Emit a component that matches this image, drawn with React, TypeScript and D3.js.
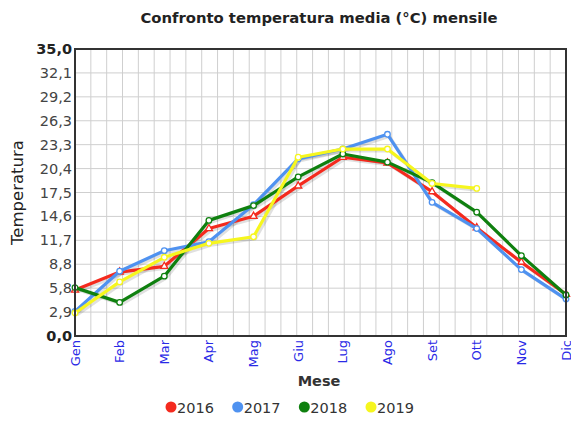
import React, { useEffect, useRef } from 'react';
import * as d3 from 'd3';

const months = ['Gen', 'Feb', 'Mar', 'Apr', 'Mag', 'Giu', 'Lug', 'Ago', 'Set', 'Ott', 'Nov', 'Dic'];
const yTicks = [0, 2.9, 5.8, 8.8, 11.7, 14.6, 17.5, 20.4, 23.3, 26.3, 29.2, 32.1, 35.0];

const t2016 = [5.6, 7.8, 8.5, 13.1, 14.6, 18.3, 21.8, 21.1, 17.6, 13.2, 9.0, 5.1];
const t2017 = [3.0, 7.9, 10.4, 11.5, 16.0, 21.6, 22.8, 24.6, 16.3, 13.1, 8.1, 4.5];
const t2018 = [5.9, 4.1, 7.3, 14.1, 15.9, 19.4, 22.2, 21.2, 18.7, 15.1, 9.8, 5.0];
const t2019 = [2.8, 6.6, 9.6, 11.3, 12.1, 21.8, 22.8, 22.8, 18.6, 18.0];

const series = [
  { name: '2016', color: '#f42a1e', values: t2016, marker: 'triangle' },
  { name: '2017', color: '#4f92f0', values: t2017, marker: 'circle' },
  { name: '2018', color: '#0f800f', values: t2018, marker: 'circle' },
  { name: '2019', color: '#f6f61e', values: t2019, marker: 'circle' },
];

const W = 571, H = 422;
const margin = { top: 49, left: 75, right: 5, bottom: 86 };

export default function App() {
  const ref = useRef<SVGSVGElement>(null);

  useEffect(() => {
    const svg = d3.select(ref.current);
    svg.selectAll('*').remove();
    const font = 'Verdana, "DejaVu Sans", sans-serif';

    const pw = W - margin.left - margin.right;
    const ph = H - margin.top - margin.bottom;
    const x = d3.scalePoint<string>().domain(months).range([0, pw]);
    const y = d3.scaleLinear().domain([0, 35]).range([ph, 0]);

    const g = svg.append('g').attr('transform', `translate(${margin.left},${margin.top})`);

    // grid
    const vCount = 31;
    g.append('g').selectAll('line').data(d3.range(1, vCount)).enter().append('line')
      .attr('x1', (d) => (d * pw) / vCount).attr('x2', (d) => (d * pw) / vCount)
      .attr('y1', 0).attr('y2', ph)
      .attr('stroke', '#cfcfcf').attr('stroke-width', 1);
    g.append('g').selectAll('line').data(d3.range(1, 12)).enter().append('line')
      .attr('x1', 0).attr('x2', pw)
      .attr('y1', (d) => y((d * 35) / 12)).attr('y2', (d) => y((d * 35) / 12))
      .attr('stroke', '#cfcfcf').attr('stroke-width', 1);

    // y tick labels
    g.append('g').selectAll('text').data(yTicks).enter().append('text')
      .attr('x', -3).attr('y', (d, i) => y((i * 35) / 12) + 5)
      .attr('text-anchor', 'end')
      .attr('font-family', font)
      .attr('font-size', 14.5)
      .attr('font-weight', (d, i) => (i === 0 || i === 12 ? 'bold' : 'normal'))
      .attr('fill', (d, i) => (i === 0 || i === 12 ? '#222' : '#444'))
      .text((d) => d.toFixed(1).replace('.', ','));

    // x tick labels
    g.append('g').selectAll('text').data(months).enter().append('text')
      .attr('transform', (d) => `translate(${(x(d) ?? 0) + 4.5},${ph + 4}) rotate(-90)`)
      .attr('text-anchor', 'end')
      .attr('font-family', font)
      .attr('font-size', 13)
      .attr('fill', '#2a2ae6')
      .text((d) => d);

    const line = d3.line<number>()
      .x((d, i) => x(months[i]) ?? 0)
      .y((d) => y(d));

    // shadows
    series.forEach((s) => {
      g.append('path').datum(s.values)
        .attr('d', line)
        .attr('transform', 'translate(2,2)')
        .attr('fill', 'none')
        .attr('stroke', '#000').attr('stroke-opacity', 0.12)
        .attr('stroke-width', 3).attr('stroke-linejoin', 'round');
    });

    series.forEach((s) => {
      g.append('path').datum(s.values)
        .attr('d', line)
        .attr('fill', 'none')
        .attr('stroke', s.color)
        .attr('stroke-width', 3.2).attr('stroke-linejoin', 'round');
      const pts = g.append('g');
      s.values.forEach((v, i) => {
        const cx = x(months[i]) ?? 0, cy = y(v);
        if (s.marker === 'triangle') {
          pts.append('path')
            .attr('d', d3.symbol(d3.symbolTriangle, 22)())
            .attr('transform', `translate(${cx},${cy})`)
            .attr('fill', '#fff').attr('stroke', s.color).attr('stroke-width', 1.3);
        } else {
          pts.append('circle').attr('cx', cx).attr('cy', cy).attr('r', 2.8)
            .attr('fill', '#fff').attr('stroke', s.color).attr('stroke-width', 1.3);
        }
      });
    });

    // frame
    g.append('rect').attr('x', 0).attr('y', 0).attr('width', pw).attr('height', ph)
      .attr('fill', 'none').attr('stroke', '#333').attr('stroke-width', 2);

    // titles
    svg.append('text').attr('x', 319).attr('y', 23)
      .attr('text-anchor', 'middle').attr('font-family', font)
      .attr('font-size', 14.8).attr('font-weight', 'bold').attr('fill', '#222')
      .text('Confronto temperatura media (°C) mensile');

    svg.append('text').attr('transform', `translate(23,${margin.top + ph / 2}) rotate(-90)`)
      .attr('text-anchor', 'middle').attr('font-family', font)
      .attr('font-size', 16.5).attr('fill', '#222')
      .text('Temperatura');

    svg.append('text').attr('x', 319).attr('y', 386)
      .attr('text-anchor', 'middle').attr('font-family', font)
      .attr('font-size', 14.5).attr('font-weight', 'bold').attr('fill', '#333')
      .text('Mese');

    // legend
    const legendX = d3.scaleLinear().domain([0, series.length - 1]).range([171, 371]);
    const lg = svg.append('g').selectAll('g').data(series).enter().append('g')
      .attr('transform', (d, i) => `translate(${legendX(i)},407)`);
    lg.append('circle').attr('r', 5.5).attr('fill', (d) => d.color);
    lg.append('text').attr('x', 6).attr('y', 6)
      .attr('font-family', font).attr('font-size', 14.5).attr('fill', '#333')
      .text((d) => d.name);
  }, []);

  return (
    <svg ref={ref} width={W} height={H} style={{ position: 'absolute', left: 0, top: 0, background: '#fff' }} />
  );
}
